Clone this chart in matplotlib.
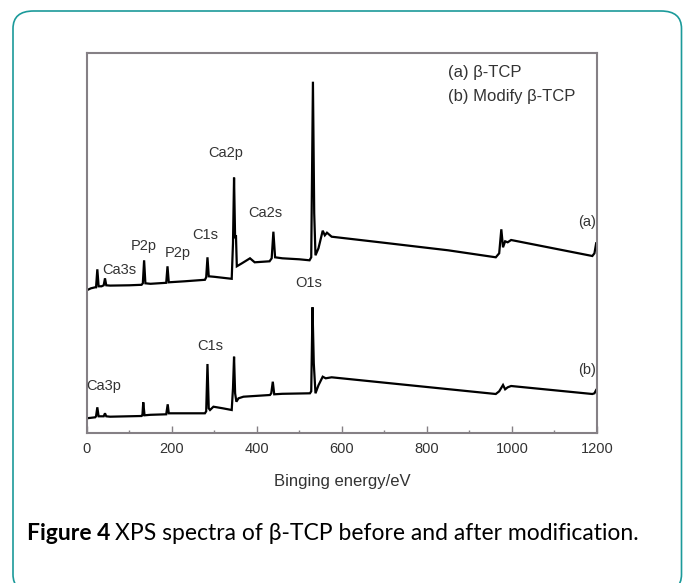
import numpy as np
import matplotlib
matplotlib.use('Agg')
import matplotlib.pyplot as plt
from matplotlib.patches import FancyBboxPatch

plt.rcParams['font.family'] = ['Liberation Sans', 'DejaVu Sans']

# ─────────────────────────────────────────────
# 数据 (binding energy / eV, intensity a.u.)
# ─────────────────────────────────────────────
energy_a = [0, 10, 20, 22, 25, 28, 35, 40, 43, 46, 55, 100, 129, 132, 135, 138, 150,
            187, 190, 193, 230, 278, 281, 284, 287, 300, 341, 344, 346.5, 349, 351, 353,
            365, 384, 395, 430, 435, 439, 443, 460, 500, 524, 528, 532, 535, 538, 545,
            555, 560, 565, 576, 700, 850, 962, 970, 975, 979, 984, 990, 998, 1189, 1194, 1198]
inten_a = [143, 145, 146, 146, 164, 147, 147, 148, 155, 148, 147.7, 148, 148.5, 150, 173, 150, 149.5,
           150.5, 167, 151, 152, 153.5, 156, 176, 157, 156.5, 154.5, 190, 255.7, 195, 198, 167,
           170, 175, 171, 172, 175, 201.6, 176, 175, 174, 173, 176, 351.6, 220, 178, 185,
           202.6, 198, 200.6, 196.6, 190.5, 183, 176, 180, 204, 186, 192, 191, 193.3, 177.3, 180, 190]

energy_b = [0, 20, 22, 25, 28, 35, 40, 43, 46, 55, 129, 131, 133, 136, 150, 187, 190.5, 193,
            230, 278, 281, 284, 287, 290, 298, 320, 341, 344, 346.5, 349, 352, 357, 368.6,
            431, 434, 437.6, 441, 460, 525, 528, 531, 534, 538, 545, 555, 562, 576,
            962, 970, 979, 984, 990, 998, 1189, 1194, 1198]
inten_b = [15, 16, 17, 26, 17, 17, 17, 20, 17, 16.6, 17.3, 18, 31, 18, 18.5, 19, 29, 20,
           20, 20, 22, 69.3, 25, 23.3, 26.6, 25, 23.3, 45, 76.6, 40, 31.6, 35, 36.6,
           38.3, 40, 51.6, 39, 39.5, 40, 42, 126, 70, 40, 48, 56.6, 55, 56,
           39.3, 42, 48.3, 44, 46, 47.3, 39.3, 40, 43.3]

# 峰标注: (text, energy, intensity, ha)
peak_labels = [
    ('Ca3s', 77, 163, 'center'),
    ('P2p', 135, 187.6, 'center'),
    ('P2p', 214, 180.6, 'center'),
    ('C1s', 278, 198.3, 'center'),
    ('Ca2p', 328, 280, 'center'),
    ('Ca2s', 420, 220, 'center'),
    ('O1s', 521, 150, 'center'),
    ('(a)', 1198, 211, 'right'),
    ('C1s', 290, 87.3, 'center'),
    ('Ca3p', 0, 47.3, 'left'),
    ('(b)', 1198, 63.3, 'right'),
]
legend_lines = ['(a) β-TCP', '(b) Modify β-TCP']

xticks_major = [0, 200, 400, 600, 800, 1000, 1200]
xticks_minor = [100, 300, 500, 700, 900, 1100]

text_c = '#333333'
spine_c = '#858085'
frame_c = '#1b9a9a'

W, H = 683, 583
fig = plt.figure(figsize=(W / 100, H / 100), dpi=100)

# 外框 (圆角)
frame = FancyBboxPatch((13 / W, 1 - 592 / H), (681.5 - 13) / W, (592 - 11) / H,
                       boxstyle='round,pad=0,rounding_size=0.03',
                       transform=fig.transFigure, facecolor='none',
                       edgecolor=frame_c, linewidth=1.2, clip_on=False)
fig.patches.append(frame)

ax = fig.add_axes([86.7 / W, 1 - 433.3 / H, (597 - 86.7) / W, (433.3 - 53.3) / H])
ax.plot(energy_a, inten_a, color='black', lw=1.6, solid_joinstyle='miter')
ax.plot(energy_b, inten_b, color='black', lw=1.6, solid_joinstyle='miter')

ax.set_xlim(0, 1200)
ax.set_ylim(0, 380)

for txt, e, i, ha in peak_labels:
    ax.text(e, i, txt, ha=ha, va='center', fontsize=10.5, color=text_c)

ax.text(850, 360.8, legend_lines[0], ha='left', va='center', fontsize=12, color=text_c)
ax.text(850, 337.3, legend_lines[1], ha='left', va='center', fontsize=12, color=text_c)

ax.set_xticks(xticks_major)
ax.set_xticks(xticks_minor, minor=True)
ax.set_yticks([])
ax.tick_params(axis='x', which='major', direction='in', length=5, width=1.0,
               color=spine_c, labelsize=10.5, labelcolor=text_c, pad=6)
ax.tick_params(axis='x', which='minor', direction='in', length=2.5, width=1.0, color=spine_c)
ax.set_xlabel('Binging energy/eV', fontsize=12, color=text_c, labelpad=13)

for s in ax.spines.values():
    s.set_color(spine_c)
    s.set_linewidth(1.5)

# 图注
renderer = fig.canvas.get_renderer()
cap_y = 1 - 534 / H
cap_fs = 16.5
t1 = fig.text(26.7 / W, cap_y, 'Figure 4', fontsize=cap_fs, fontweight='bold',
              family=['Lato', 'DejaVu Sans'], va='center', ha='left', color='black')
bb = t1.get_window_extent(renderer)
fig.text(bb.x1 / W + 5 / W, cap_y, 'XPS spectra of β-TCP before and after modification.',
         fontsize=cap_fs, family=['Lato', 'DejaVu Sans'], va='center', ha='left', color='black')

fig.savefig('out.png', dpi=100, facecolor='white')
